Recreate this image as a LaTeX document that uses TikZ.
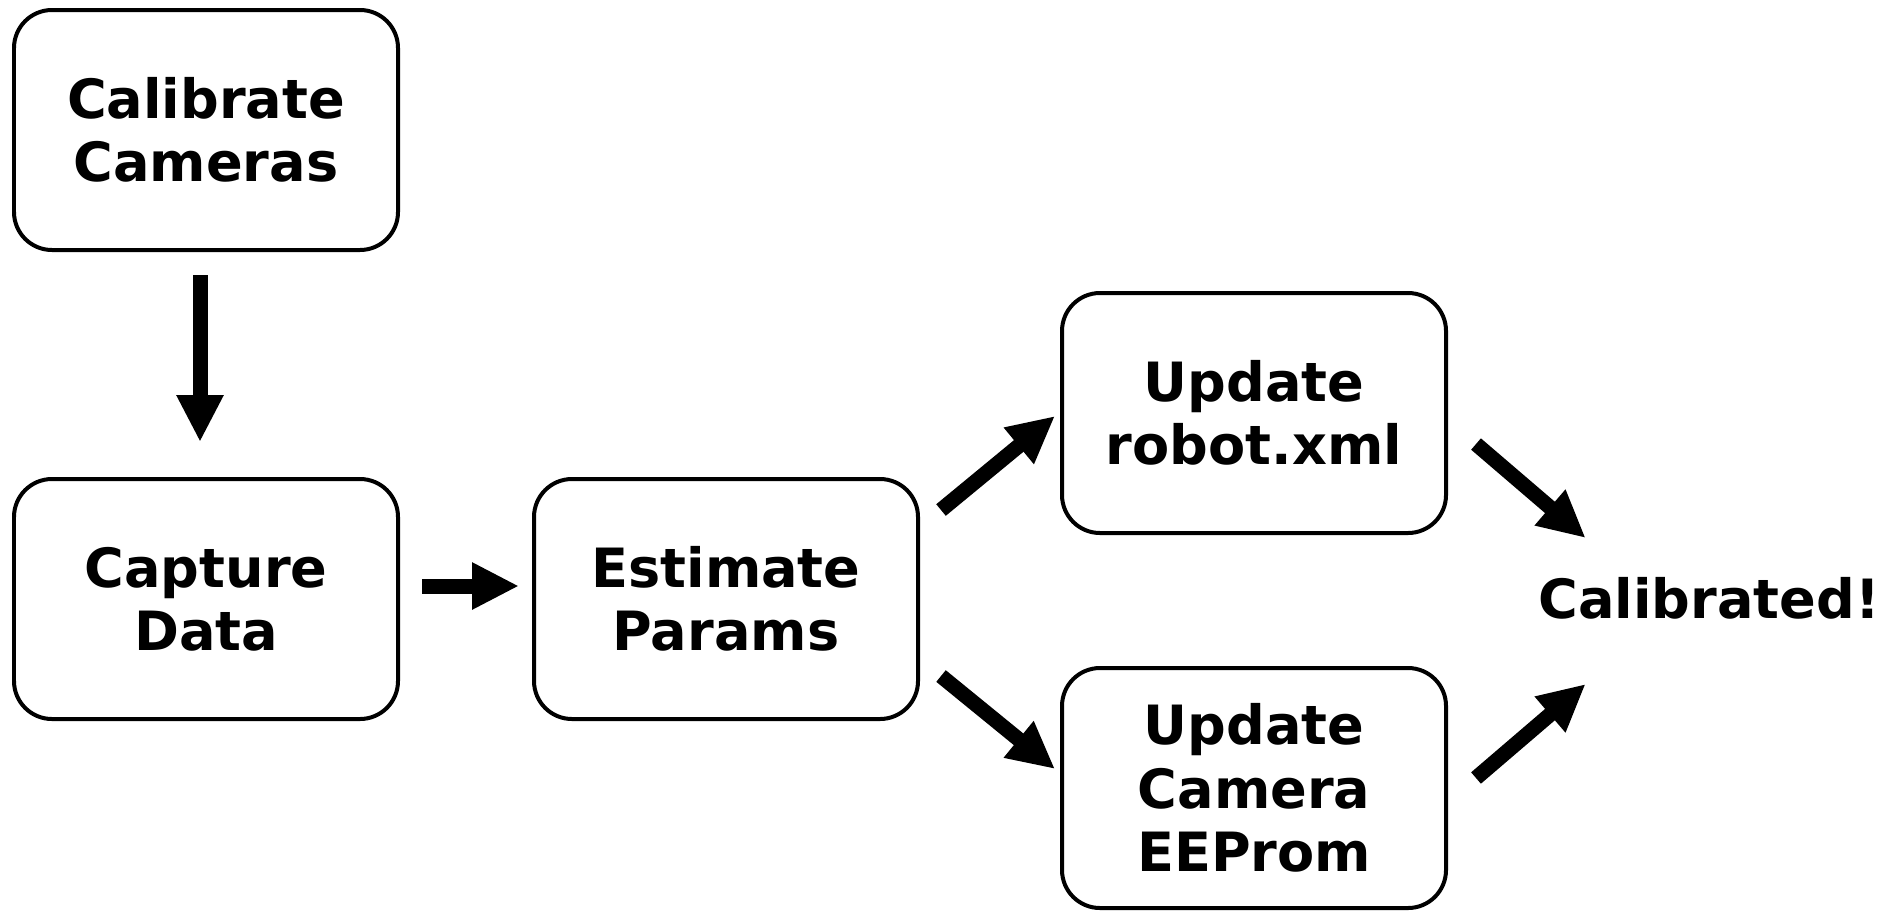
\documentclass[tikz,border=0pt]{standalone}
\usepackage{fontspec}
\setmainfont{DejaVu Sans}
\usepackage{tikz}
\usetikzlibrary{arrows.meta}

\begin{document}
\begin{tikzpicture}[
		stepbox/.style={shape=rectangle,draw=black,line width=0.04cm,rounded corners=0.38cm,minimum width=3.84cm,minimum height=2.40cm,align=center,font=\fontsize{15.4}{18}\selectfont\bfseries},
		flow/.style={line width=0.15cm,-{Triangle[width=0.44cm,length=0.47cm]}}
	]

		\useasboundingbox (0, 0) rectangle (18.92, 9.11);

		\node[stepbox] (calib)    at (2.06, 7.81)  {Calibrate\\Cameras};
		\node[stepbox] (capture)  at (2.06, 3.12)  {Capture\\Data};
		\node[stepbox] (estimate) at (7.26, 3.12)  {Estimate\\Params};
		\node[stepbox] (robot)    at (12.54, 4.98) {Update\\robot.xml};
		\node[stepbox] (camera)   at (12.54, 1.23) {Update\\Camera\\EEProm};
		\node[inner sep=0pt,font=\fontsize{15.4}{18}\selectfont\bfseries] (done) at (17.09, 3.13) {Calibrated!};

		\draw[flow,shorten <=0.23cm,shorten >=0.35cm] ([xshift=-0.06cm]calib.south) -- ([xshift=-0.06cm]capture.north);
		\draw[flow,shorten <=0.22cm,shorten >=0.13cm] ([yshift=0.13cm]capture.east) -- ([yshift=0.13cm]estimate.west);
		\draw[flow] ([shift={(0.21,0.89)}]estimate.east) -- ([shift={(-0.05,-0.03)}]robot.west);
		\draw[flow] ([shift={(0.21,-0.77)}]estimate.east) -- ([shift={(-0.05,0.19)}]camera.west);
		\draw[flow] ([shift={(0.28,-0.31)}]robot.east) -- ([shift={(0.48,0.60)}]done.west);
		\draw[flow] ([shift={(0.28,0.10)}]camera.east) -- ([shift={(0.48,-0.86)}]done.west);

\end{tikzpicture}
\end{document}
